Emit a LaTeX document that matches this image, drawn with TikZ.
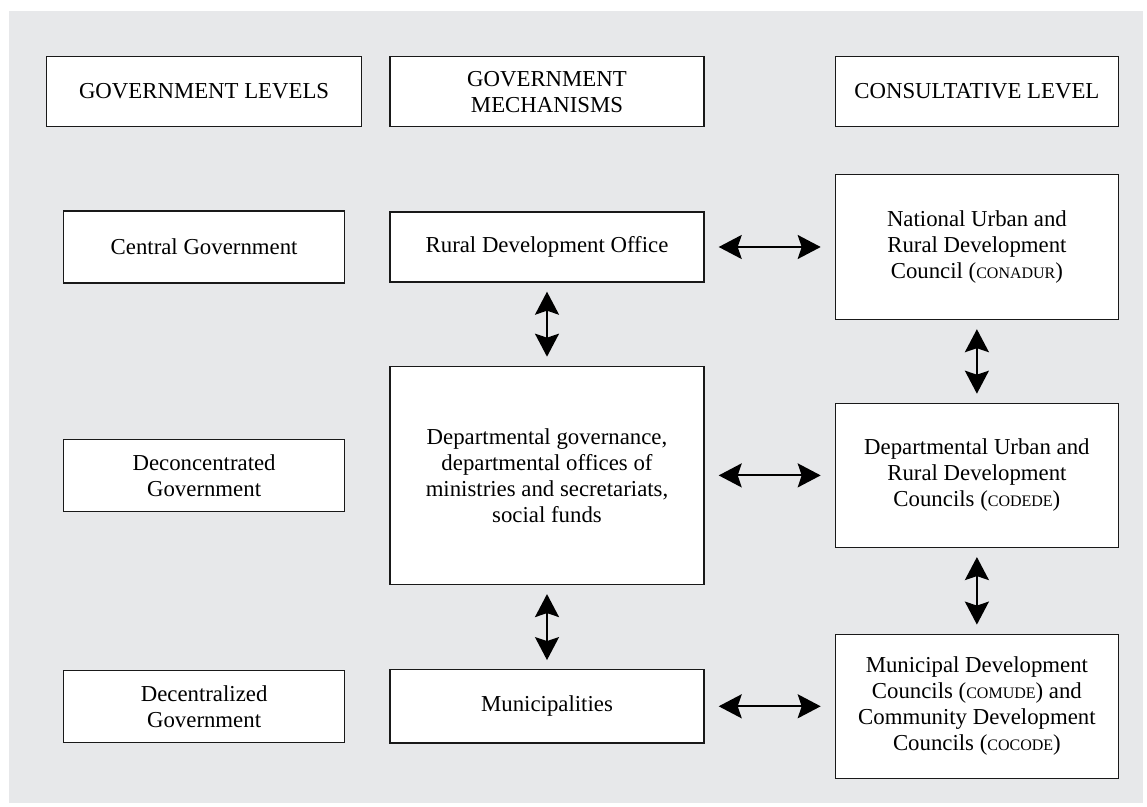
\documentclass[tikz,border=0pt]{standalone}
\usepackage{fontspec}
\setmainfont{Liberation Serif}
\usepackage{tikz}
\usetikzlibrary{arrows.meta,positioning}
\pgfdeclarelayer{background}
\pgfsetlayers{background,main}
\definecolor{panel}{HTML}{E7E8EA}
\newcommand{\acro}[1]{{\fontsize{8pt}{13pt}\selectfont #1}}

\begin{document}
\begin{tikzpicture}[
        x=0.5pt,y=-0.5pt,
        node distance=41.5pt and 65pt,
        box/.style={draw=black!90,line width=0.7pt,fill=white,align=center,
                    inner sep=2pt,font=\fontsize{11.4pt}{13pt}\selectfont},
        head/.style={box,minimum height=35pt},
        lvl/.style={box,minimum width=140.5pt,minimum height=36pt},
        mech/.style={box,minimum width=157pt},
        cons/.style={box,minimum width=141.5pt,minimum height=72pt},
        link/.style={{Stealth[length=11.5pt,width=12pt,inset=2pt]}-{Stealth[length=11.5pt,width=12pt,inset=2pt]},
                     line width=1pt}
      ]
        \useasboundingbox (0,0) rectangle (1147,807);
        \node[mech,minimum height=35pt] (rdo) at (547,247) {Rural Development Office};
        \node[mech,minimum height=109pt,below=of rdo] (dept)
          {Departmental governance,\\departmental offices of\\ministries and secretariats,\\social funds};
        \node[mech,minimum height=36.5pt,below=42pt of dept] (muni) {Municipalities};
        \node[head,mech,above=42pt of rdo] (hmech) {GOVERNMENT\\MECHANISMS};
        \node[head,minimum width=157.5pt,left=13.5pt of hmech] (hlev) {GOVERNMENT LEVELS};
        \node[head,minimum width=141.5pt,right=65pt of hmech] (hcons) {CONSULTATIVE LEVEL};
        \node[lvl,left=22pt of rdo] (cgov) {Central Government};
        \node[lvl,left=22pt of dept] (dcon) {Deconcentrated\\Government};
        \node[lvl,left=22pt of muni] (dcen) {Decentralized\\Government};
        \node[cons,minimum height=72.5pt,right=of rdo] (conadur)
          {National Urban and\\Rural Development\\Council (\acro{CONADUR})};
        \node[cons,right=of dept] (codede)
          {Departmental Urban and\\Rural Development\\Councils (\acro{CODEDE})};
        \node[cons,right=of muni] (comude)
          {Municipal Development\\Councils (\acro{COMUDE}) and\\Community Development\\Councils (\acro{COCODE})};
        \draw[link,shorten <=7pt,shorten >=7pt] (rdo) -- (conadur);
        \draw[link,shorten <=7pt,shorten >=7pt] (dept) -- (codede);
        \draw[link,shorten <=7pt,shorten >=7pt] (muni) -- (comude);
        \draw[link,shorten <=4.5pt,shorten >=4.5pt] (rdo) -- (dept);
        \draw[link,shorten <=4.5pt,shorten >=4.5pt] (dept) -- (muni);
        \draw[link,shorten <=4.5pt,shorten >=4.5pt] (conadur) -- (codede);
        \draw[link,shorten <=4.5pt,shorten >=4.5pt] (codede) -- (comude);
        \begin{pgfonlayer}{background}
          \fill[panel] (9,11) rectangle (1143,803);
        \end{pgfonlayer}
      \end{tikzpicture}
\end{document}
